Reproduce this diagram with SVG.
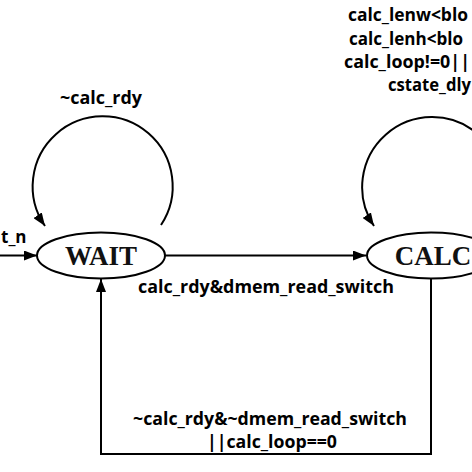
<svg xmlns="http://www.w3.org/2000/svg" width="472" height="472" viewBox="0 0 472 472">
<style>
.st{fill:#fff;stroke:#000;stroke-width:2}
.sn{font-family:"Liberation Serif","Times New Roman",serif;font-weight:bold;font-size:27px;fill:#111;text-anchor:middle}
.lb{font-family:"Open Sans","Liberation Sans",sans-serif;font-weight:bold;font-size:17px;fill:#000}
.ed{fill:none;stroke:#000;stroke-width:2}
</style>
<defs>
<marker id="ah" markerUnits="userSpaceOnUse" markerWidth="13" markerHeight="10" refX="13" refY="5" orient="auto">
<path d="M0,0 L13,5 L0,10 z" fill="#000"/>
</marker>
</defs>
<rect width="472" height="472" fill="#fff"/>
<g id="connectors">
<path class="ed" d="M0,255.5 H37" marker-end="url(#ah)"/>
<path class="ed" d="M165,255.5 H366" marker-end="url(#ah)"/>
<path class="ed" d="M161,225 A70,70 0 1 0 45,226" marker-end="url(#ah)"/>
<path class="ed" d="M491,225 A70,70 0 1 0 374,226" marker-end="url(#ah)"/>
<path class="ed" d="M431,278 V454 H101 V279" marker-end="url(#ah)"/>
</g>
<g id="labels">
<text class="lb" x="1" y="243">t_n</text>
<text class="lb" x="101" y="104" text-anchor="middle" textLength="82" lengthAdjust="spacingAndGlyphs">~calc_rdy</text>
<text class="lb" x="266" y="293" text-anchor="middle" textLength="256" lengthAdjust="spacingAndGlyphs">calc_rdy&amp;dmem_read_switch</text>
<text class="lb" x="270" y="425" text-anchor="middle" textLength="274" lengthAdjust="spacingAndGlyphs">~calc_rdy&amp;~dmem_read_switch</text>
<text class="lb" x="272" y="448" text-anchor="middle" textLength="130" lengthAdjust="spacingAndGlyphs">||calc_loop==0</text>
<text class="lb" x="348" y="21" textLength="120" lengthAdjust="spacingAndGlyphs">calc_lenw&lt;blo</text>
<text class="lb" x="349" y="45" textLength="114" lengthAdjust="spacingAndGlyphs">calc_lenh&lt;blo</text>
<text class="lb" x="344" y="68" textLength="126" lengthAdjust="spacingAndGlyphs">calc_loop!=0||</text>
<text class="lb" x="388" y="91" textLength="83" lengthAdjust="spacingAndGlyphs">cstate_dly</text>
</g>
<g id="WAIT">
<ellipse class="st" cx="101" cy="255.5" rx="64" ry="23"/>
<text class="sn" x="101" y="265">WAIT</text>
</g>
<g id="CALC">
<ellipse class="st" cx="431" cy="255.5" rx="64" ry="23"/>
<text class="sn" x="433" y="265">CALC</text>
</g>
</svg>
